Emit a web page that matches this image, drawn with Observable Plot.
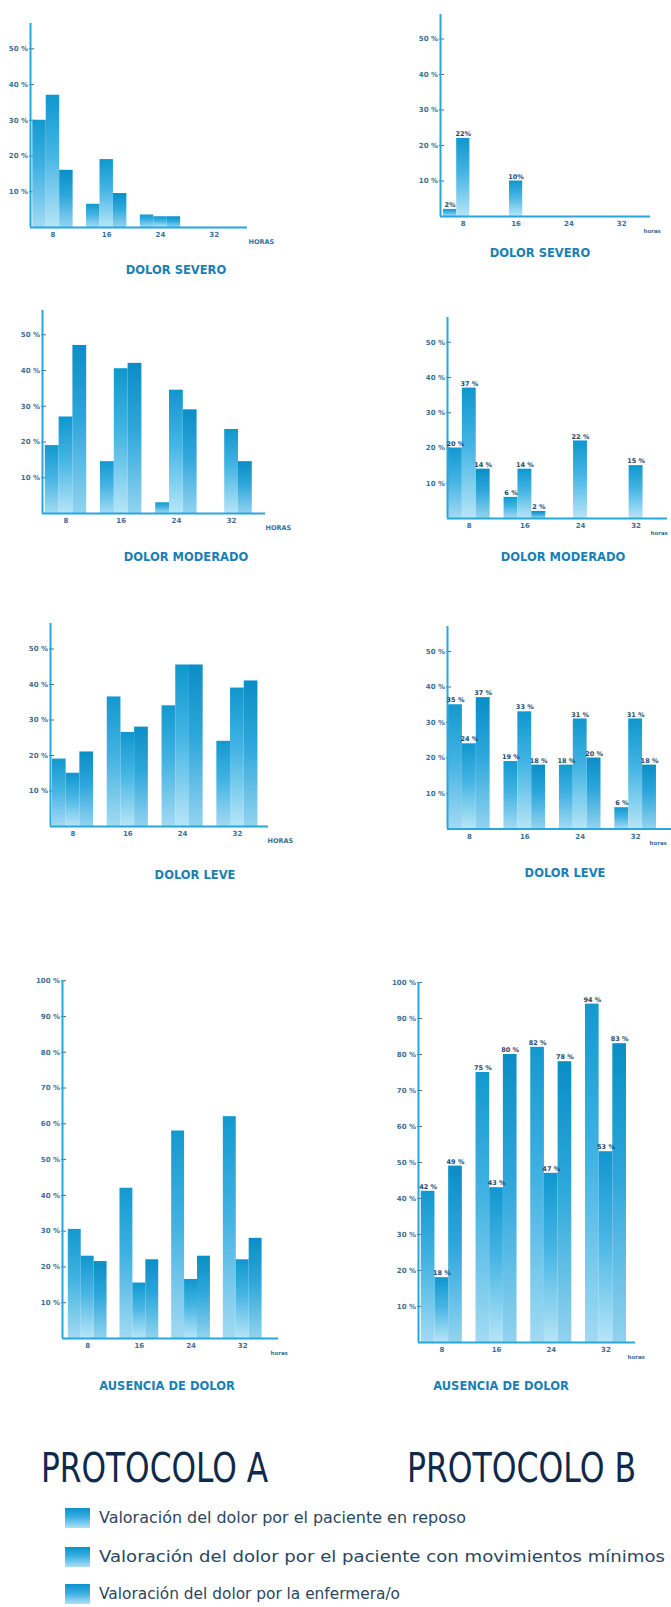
<!DOCTYPE html>
<html lang="es">
<head>
<meta charset="utf-8">
<script src="https://cdn.jsdelivr.net/npm/d3@7"></script>
<script src="https://cdn.jsdelivr.net/npm/@observablehq/plot@0.6"></script>
<style>
  html, body { margin: 0; padding: 0; background: #fff; overflow: hidden; }
  #pagina { position: relative; width: 671px; height: 1607px; overflow: hidden; background: #fff; }
  .grafico { position: absolute; }
  .titulo { position: absolute; transform: translate(-50%, -50%); white-space: nowrap;
            font: bold 11.5px "DejaVu Sans", sans-serif; color: #1a7fb4; }
  .protocolo { position: absolute; white-space: nowrap; color: #10294a; transform-origin: 0 50%;
               font: 40px/40px "DejaVu Sans Condensed", "DejaVu Sans", sans-serif; }
  .leyenda { position: absolute; left: 65px; height: 20px; display: flex; align-items: center;
             white-space: nowrap; font: 15px "DejaVu Sans", sans-serif; color: #2b4660; }
  .leyenda .texto { display: inline-block; transform-origin: 0 50%; }
  .muestra { width: 25px; height: 20px; margin-right: 9px; flex: none;
             background: linear-gradient(to bottom, #0a93c9 0%, #3aaee0 45%, #aee0f5 100%); }
</style>
</head>
<body>
<div id="pagina"></div>
<script>
// Horas de valoración y series de cada grupo de barras
const horas = [8, 16, 24, 32];
const series = [
  "Valoración del dolor por el paciente en reposo",
  "Valoración del dolor por el paciente con movimientos mínimos",
  "Valoración del dolor por la enfermera/o"
];
const ticks50 = [10, 20, 30, 40, 50];
const ticks100 = [10, 20, 30, 40, 50, 60, 70, 80, 90, 100];

// Porcentajes por hora (filas) y serie (columnas)
const severoA    = [[30, 37, 16], [6.5, 19, 9.5], [3.5, 3, 3], [0, 0, 0]];
const severoB    = [[2, 22, 0], [0, 10, 0], [0, 0, 0], [0, 0, 0]];
const moderadoA  = [[19, 27, 47], [14.5, 40.5, 42], [3, 34.5, 29], [0, 23.5, 14.5]];
const moderadoB  = [[20, 37, 14], [6, 14, 2], [0, 22, 0], [0, 15, 0]];
const leveA      = [[19, 15, 21], [36.5, 26.5, 28], [34, 45.5, 45.5], [24, 39, 41]];
const leveB      = [[35, 24, 37], [19, 33, 18], [18, 31, 20], [6, 31, 18]];
const ausenciaA  = [[30.5, 23, 21.5], [42, 15.5, 22], [58, 16.5, 23], [62, 22, 28]];
const ausenciaB  = [[42, 18, 49], [75, 43, 80], [82, 47, 78], [94, 53, 83]];

// Degradados de las barras (uno por serie), compartidos por todos los gráficos
const degradados = [
  ["#1399cf", "#41b2e2", "#a2daf3"],
  ["#0f97ce", "#45b5e4", "#b6e5f7"],
  ["#0a8ec5", "#2ea7db", "#92d3ef"]
];
const defs = d3.select("#pagina").append("svg")
  .attr("width", 0).attr("height", 0)
  .style("position", "absolute").append("defs");
degradados.forEach((c, i) => {
  const g = defs.append("linearGradient").attr("id", "grad" + i)
    .attr("x1", 0).attr("y1", 0).attr("x2", 0).attr("y2", 1);
  g.append("stop").attr("offset", "0%").attr("stop-color", c[0]);
  g.append("stop").attr("offset", "45%").attr("stop-color", c[1]);
  g.append("stop").attr("offset", "100%").attr("stop-color", c[2]);
});

// Disposición de cada panel en la página (px) y escala horaria (px = a + b·hora)
const paneles = [
  {valores: severoA,   titulo: "DOLOR SEVERO",      unidad: "HORAS", sufijo: null,  yTicks: ticks50,
   axisX: 30,  rightX: 247, yTop: 23,  zeroY: 227,   ppp: 3.575, a: -1.3,  b: 6.72, unitX: 248, tx: 176, ty: 270},
  {valores: severoB,   titulo: "DOLOR SEVERO",      unidad: "horas", sufijo: "%",   yTicks: ticks50,
   axisX: 440, rightX: 650, yTop: 14,  zeroY: 216,   ppp: 3.55,  a: 410,   b: 6.6,  unitX: 643, tx: 540, ty: 253},
  {valores: moderadoA, titulo: "DOLOR  MODERADO",   unidad: "HORAS", sufijo: null,  yTicks: ticks50,
   axisX: 42,  rightX: 265, yTop: 310, zeroY: 513,   ppp: 3.575, a: 10.3,  b: 6.9,  unitX: 265, tx: 186, ty: 557},
  {valores: moderadoB, titulo: "DOLOR MODERADO",    unidad: "horas", sufijo: " %",  yTicks: ticks50,
   axisX: 447, rightX: 667, yTop: 317, zeroY: 518,   ppp: 3.525, a: 413.2, b: 6.95, unitX: 650, tx: 563, ty: 557},
  {valores: leveA,     titulo: "DOLOR LEVE",        unidad: "HORAS", sufijo: null,  yTicks: ticks50,
   axisX: 50,  rightX: 268, yTop: 623, zeroY: 826,   ppp: 3.55,  a: 17.7,  b: 6.85, unitX: 267, tx: 195, ty: 875},
  {valores: leveB,     titulo: "DOLOR LEVE",        unidad: "horas", sufijo: " %",  yTicks: ticks50,
   axisX: 447, rightX: 671, yTop: 626, zeroY: 828.5, ppp: 3.55,  a: 413.4, b: 6.93, unitX: 649, tx: 565, ty: 873},
  {valores: ausenciaA, titulo: "AUSENCIA DE DOLOR", unidad: "horas", sufijo: null,  yTicks: ticks100,
   axisX: 62,  rightX: 278, yTop: 980, zeroY: 1338,  ppp: 3.578, a: 35.5,  b: 6.46, unitX: 270, tx: 167, ty: 1386},
  {valores: ausenciaB, titulo: "AUSENCIA DE DOLOR", unidad: "horas", sufijo: " %",  yTicks: ticks100,
   axisX: 418, rightX: 635, yTop: 982, zeroY: 1342,  ppp: 3.6,   a: 386.6, b: 6.84, unitX: 627, tx: 501, ty: 1386}
];

const pagina = document.getElementById("pagina");
const azulEje = "#29a6dc";
const anchoBarra = 2; // en horas

function dibujarPanel(p) {
  const ml = 36, mr = 40, mt = 6, mb = 24;
  const w = p.rightX - p.axisX, h = p.zeroY - p.yTop;
  const aHora = px => (px - p.a) / p.b;
  const x0 = aHora(p.axisX), x1 = aHora(p.rightX);
  const yMax = h / p.ppp;

  const filas = [];
  p.valores.forEach((grupo, i) =>
    grupo.forEach((v, s) => filas.push({hora: horas[i], serie: s, valor: v})));
  const visibles = filas.filter(d => d.valor > 0);
  const centro = d => d.hora + (d.serie - 1) * anchoBarra;

  const marcas = series.map((_, s) =>
    Plot.rect(visibles.filter(d => d.serie === s), {
      x1: d => centro(d) - anchoBarra / 2,
      x2: d => centro(d) + anchoBarra / 2,
      y1: 0,
      y2: "valor",
      fill: `url(#grad${s})`
    }));
  marcas.push(
    Plot.ruleX([x0], {y1: 0, y2: yMax, stroke: azulEje, strokeWidth: 2}),
    Plot.ruleY([0], {x1: x0, x2: x1, stroke: azulEje, strokeWidth: 2}),
    Plot.text([p.unidad], {x: () => aHora(p.unitX), y: () => 0, text: d => d, dy: 14.5,
      textAnchor: "start", fontSize: p.unidad === "HORAS" ? 6.5 : 5.5})
  );
  if (p.sufijo) {
    marcas.push(Plot.text(visibles, {
      x: centro, y: "valor", text: d => d.valor + p.sufijo,
      dy: -4.5, fontSize: 6.5, fill: "#1d4a6e"
    }));
  }

  const svg = Plot.plot({
    width: ml + w + mr,
    height: mt + h + mb,
    x: {type: "linear", domain: [x0, x1], range: [ml, ml + w], ticks: horas,
        tickSize: 0, tickPadding: 11, tickFormat: d => String(d), label: null},
    y: {type: "linear", domain: [0, yMax], range: [mt + h, mt], ticks: p.yTicks,
        tickSize: 5, tickPadding: 1.5, tickFormat: d => d + " %", label: null},
    style: {
      fontFamily: "'DejaVu Sans', sans-serif", fontSize: "7px", fontWeight: "bold",
      color: "#3a6f96", background: "transparent", overflow: "visible", maxWidth: "none"
    },
    marks: marcas
  });
  svg.classList.add("grafico");
  svg.style.left = (p.axisX - ml) + "px";
  svg.style.top = (p.yTop - mt) + "px";
  pagina.appendChild(svg);

  const t = document.createElement("div");
  t.className = "titulo";
  t.style.left = p.tx + "px";
  t.style.top = p.ty + "px";
  t.textContent = p.titulo;
  pagina.appendChild(t);
}

paneles.forEach(dibujarPanel);

// Encabezados de protocolo, ajustados al ancho de su columna
[["PROTOCOLO A", 41, 227], ["PROTOCOLO B", 407, 229]].forEach(([texto, x, ancho]) => {
  const d = document.createElement("div");
  d.className = "protocolo";
  d.style.left = x + "px";
  d.style.top = "1448px";
  d.textContent = texto;
  pagina.appendChild(d);
  const real = d.getBoundingClientRect().width;
  d.style.transform = `scaleX(${ancho / real})`;
});

// Leyenda de series; cada texto se ensancha hasta su ancho
const filasLeyenda = [1508, 1547, 1584];
const anchosLeyenda = [367, 566, 301];
series.forEach((s, i) => {
  const d = document.createElement("div");
  d.className = "leyenda";
  d.style.top = filasLeyenda[i] + "px";
  const m = document.createElement("span");
  m.className = "muestra";
  d.appendChild(m);
  const txt = document.createElement("span");
  txt.className = "texto";
  txt.textContent = s;
  d.appendChild(txt);
  pagina.appendChild(d);
  const real = txt.getBoundingClientRect().width;
  txt.style.transform = `scaleX(${anchosLeyenda[i] / real})`;
});
</script>
</body>
</html>
